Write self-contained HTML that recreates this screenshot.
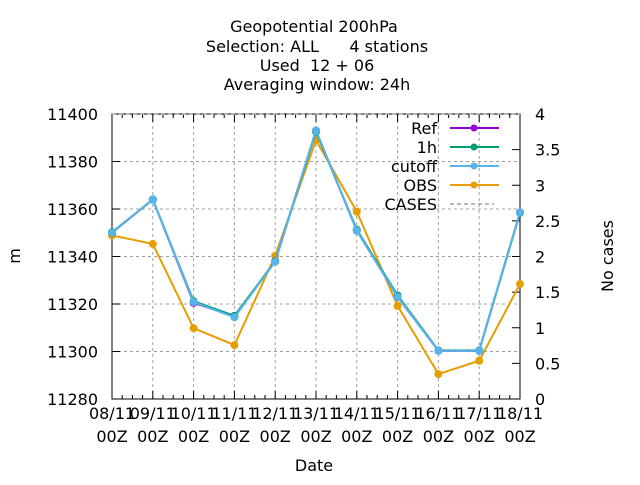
<!DOCTYPE html>
<html><head><meta charset="utf-8"><style>
body{margin:0;background:#fff}
svg text{font-family:"DejaVu Sans","Liberation Sans",sans-serif;font-size:16px;fill:#000}
</style></head><body>
<svg width="640" height="480" xmlns="http://www.w3.org/2000/svg">
<g id="title" text-anchor="middle">
<text x="314" y="32">Geopotential 200hPa</text>
<text x="317" y="52" xml:space="preserve">Selection: ALL      4 stations</text>
<text x="317" y="71" xml:space="preserve">Used  12 + 06</text>
<text x="317" y="90">Averaging window: 24h</text>
</g>
<g id="grid"></g>
<g id="axes"></g>
<g id="series"></g>
<g id="legend"></g>
<text x="20" y="256" transform="rotate(-90 20 256)" text-anchor="middle">m</text>
<text x="613" y="256" transform="rotate(-90 613 256)" text-anchor="middle">No cases</text>
<text x="314" y="471" text-anchor="middle">Date</text>
</svg>
<script>
const categories=["08/11","09/11","10/11","11/11","12/11","13/11","14/11","15/11","16/11","17/11","18/11"];
const refVals=[11350,11364,11320.5,11314.8,11338,11393,11350.9,11323,11300.3,11300.3,11358.6];
const h1Vals=[11350.2,11364,11321.2,11315,11338,11392.5,11351.3,11323.6,11300.5,11300.5,11358.4];
const cutoffVals=[11350,11364.1,11320.8,11314.4,11337.8,11393,11350.9,11323,11300.3,11300.3,11358.6];
const obsVals=[11348.9,11345.3,11309.8,11302.7,11340.3,11389,11358.9,11319.2,11290.5,11296.1,11328.4];
const casesVals=[4,4,4,4,4,4,4,4,4,4,4];
const yTicks=[11280,11300,11320,11340,11360,11380,11400];
const y2Ticks=[0,0.5,1,1.5,2,2.5,3,3.5,4];
const y2Labels=["0","0.5","1","1.5","2","2.5","3","3.5","4"];
const L=112,R=520,T=114,B=399;
const NS="http://www.w3.org/2000/svg";
const xs=i=>L+i*(R-L)/(categories.length-1);
const ys=v=>B-(v-11280)/(11400-11280)*(B-T);
const y2s=v=>B-v/4*(B-T);
function mk(tag,at,parent){const e=document.createElementNS(NS,tag);for(const k in at)e.setAttribute(k,at[k]);document.getElementById(parent).appendChild(e);return e;}
yTicks.forEach(v=>{if(v>11280&&v<11400){const g=mk('line',{x1:L,x2:R,y1:ys(v),y2:ys(v),stroke:'#a0a0a0','stroke-dasharray':'3,3','stroke-width':1},'grid');

}});
categories.forEach((c,i)=>{if(i>0&&i<categories.length-1){const g=mk('line',{x1:xs(i),x2:xs(i),y1:T,y2:B,stroke:'#a0a0a0','stroke-dasharray':'3,3','stroke-width':1},'grid');

}});
const bx=mk('rect',{x:L,y:T,width:R-L,height:B-T,fill:'none',stroke:'#000','stroke-width':1},'axes');


yTicks.forEach(v=>{mk('line',{x1:L,x2:L+8,y1:ys(v),y2:ys(v),stroke:'#000'},'axes');
const t=mk('text',{x:L-14,y:ys(v)+6,'text-anchor':'end'},'axes');t.textContent=v;

});
y2Ticks.forEach((v,i)=>{mk('line',{x1:R-8,x2:R,y1:y2s(v),y2:y2s(v),stroke:'#000'},'axes');
const t=mk('text',{x:R+15,y:y2s(v)+6},'axes');t.textContent=y2Labels[i];

});
categories.forEach((c,i)=>{mk('line',{x1:xs(i),x2:xs(i),y1:B,y2:B-8,stroke:'#000'},'axes');
mk('line',{x1:xs(i),x2:xs(i),y1:T,y2:T+8,stroke:'#000'},'axes');
if(i<categories.length-1)for(let k=1;k<4;k++){const x=xs(i)+k*(R-L)/40;mk('line',{x1:x,x2:x,y1:B,y2:B-4,stroke:'#000'},'axes');mk('line',{x1:x,x2:x,y1:T,y2:T+4,stroke:'#000'},'axes');}
const t=mk('text',{x:xs(i),y:B+20,'text-anchor':'middle'},'axes');t.textContent=c;


const t2=mk('text',{x:xs(i),y:B+43,'text-anchor':'middle'},'axes');t2.textContent='00Z';

});
function series(vals,color,name,yf){const p=mk('polyline',{points:vals.map((v,i)=>xs(i)+','+yf(v)).join(' '),fill:'none',stroke:color,'stroke-width':2},'series');


vals.forEach((v,i)=>{const c=mk('circle',{cx:xs(i),cy:yf(v),r:4,fill:color},'series');

});}
const cl=mk('polyline',{points:casesVals.map((v,i)=>xs(i)+','+y2s(v)).join(' '),fill:'none',stroke:'#a0a0a0','stroke-dasharray':'4,3','stroke-width':1.5},'series');


series(obsVals,'#e69f00','obs',ys);
series(refVals,'#9400d3','ref',ys);
series(h1Vals,'#009e73','1h',ys);
series(cutoffVals,'#56b4e9','cutoff',ys);
const leg=[["Ref","#9400d3"],["1h","#009e73"],["cutoff","#56b4e9"],["OBS","#e69f00"],["CASES","#a0a0a0"]];
leg.forEach((e,i)=>{const y=128+i*19;
const t=mk('text',{x:437,y:y+6,'text-anchor':'end'},'legend');t.textContent=e[0];


if(i<4){mk('line',{x1:450,x2:499,y1:y,y2:y,stroke:e[1],'stroke-width':2},'legend');mk('circle',{cx:474,cy:y,r:3.5,fill:e[1]},'legend');}
else mk('line',{x1:450,x2:494,y1:y,y2:y,stroke:e[1],'stroke-width':1.5,'stroke-dasharray':'4,3'},'legend');});
</script>
</body></html>
